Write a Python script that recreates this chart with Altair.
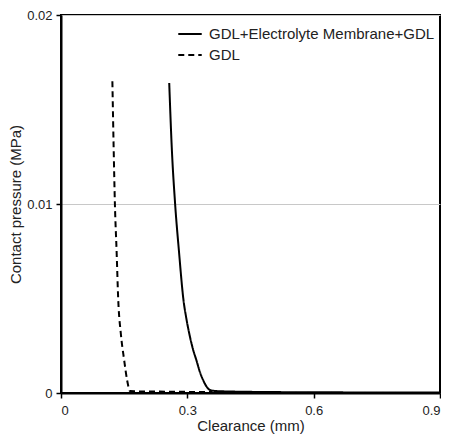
import altair as alt
import pandas as pd

series_names = ["GDL+Electrolyte Membrane+GDL", "GDL"]

solid_x = [0.257, 0.263, 0.271, 0.280, 0.291, 0.298, 0.305, 0.313, 0.322, 0.330, 0.338, 0.346, 0.354, 0.37, 0.4, 0.5, 0.6, 0.7, 0.8, 0.9]
solid_y = [0.0164, 0.0130, 0.0100, 0.00753, 0.00489, 0.00390, 0.00310, 0.00235, 0.00170, 0.00110, 0.00066, 0.00033, 0.00016, 0.0001, 0.00008, 0.00005, 0.00004, 0.00003, 0.00002, 0.00002]

dash_x = [0.122, 0.125, 0.128, 0.132, 0.136, 0.142, 0.150, 0.157, 0.164, 0.175, 0.25, 0.36]
dash_y = [0.0165, 0.0130, 0.0100, 0.00753, 0.00489, 0.00316, 0.00174, 0.00068, 0.0001, 0.00009, 0.00007, 0.00005]

rows = []
for i, (x, y) in enumerate(zip(solid_x, solid_y)):
    rows.append({"series": series_names[0], "clearance": x, "pressure": y, "order": i})
for i, (x, y) in enumerate(zip(dash_x, dash_y)):
    rows.append({"series": series_names[1], "clearance": x, "pressure": y, "order": i})
df = pd.DataFrame(rows)

font = "Liberation Sans"
txt = "#222222"

chart = alt.Chart(df).mark_line(color="black", strokeWidth=2, interpolate="monotone").encode(
    x=alt.X("clearance:Q", title="Clearance (mm)",
            scale=alt.Scale(domain=[0, 0.9], nice=False),
            axis=alt.Axis(values=[0, 0.3, 0.6, 0.9], format="~g", grid=False,
                          domainColor="black", domainWidth=2, tickColor="black",
                          tickWidth=1.5, tickSize=5, labelFontSize=13, titleFontSize=15,
                          labelFont=font, titleFont=font, labelColor=txt, titleColor=txt,
                          titleFontWeight="normal", labelPadding=6, titlePadding=1)),
    y=alt.Y("pressure:Q", title="Contact pressure (MPa)",
            scale=alt.Scale(domain=[0, 0.02], nice=False),
            axis=alt.Axis(values=[0, 0.01, 0.02], format="~g", grid=True, gridColor="#c8c8c8",
                          gridWidth=1, domainColor="black", domainWidth=2, tickColor="black",
                          tickWidth=1.5, tickSize=5, labelFontSize=13, titleFontSize=15,
                          labelFont=font, titleFont=font, labelColor=txt, titleColor=txt,
                          titleFontWeight="normal", labelPadding=4, titlePadding=3)),
    strokeDash=alt.StrokeDash("series:N", sort=series_names,
                              scale=alt.Scale(domain=series_names, range=[[1, 0], [6, 4]]),
                              legend=alt.Legend(title=None, orient="none", legendX=116, legendY=6,
                                                symbolType="stroke", symbolStrokeWidth=2,
                                                symbolSize=550, symbolStrokeColor="black",
                                                labelFontSize=15, labelFont=font, labelColor=txt,
                                                labelLimit=400, rowPadding=-3, labelOffset=6)),
    detail="series:N",
    order="order:Q",
).properties(
    width=379, height=378,
    autosize=alt.AutoSizeParams(type="none"),
    padding={"left": 53, "top": 7, "right": 1, "bottom": 42},
).configure_view(stroke="black", strokeWidth=2)

chart.save("out.html", embed_options={"renderer": "svg", "actions": False})
